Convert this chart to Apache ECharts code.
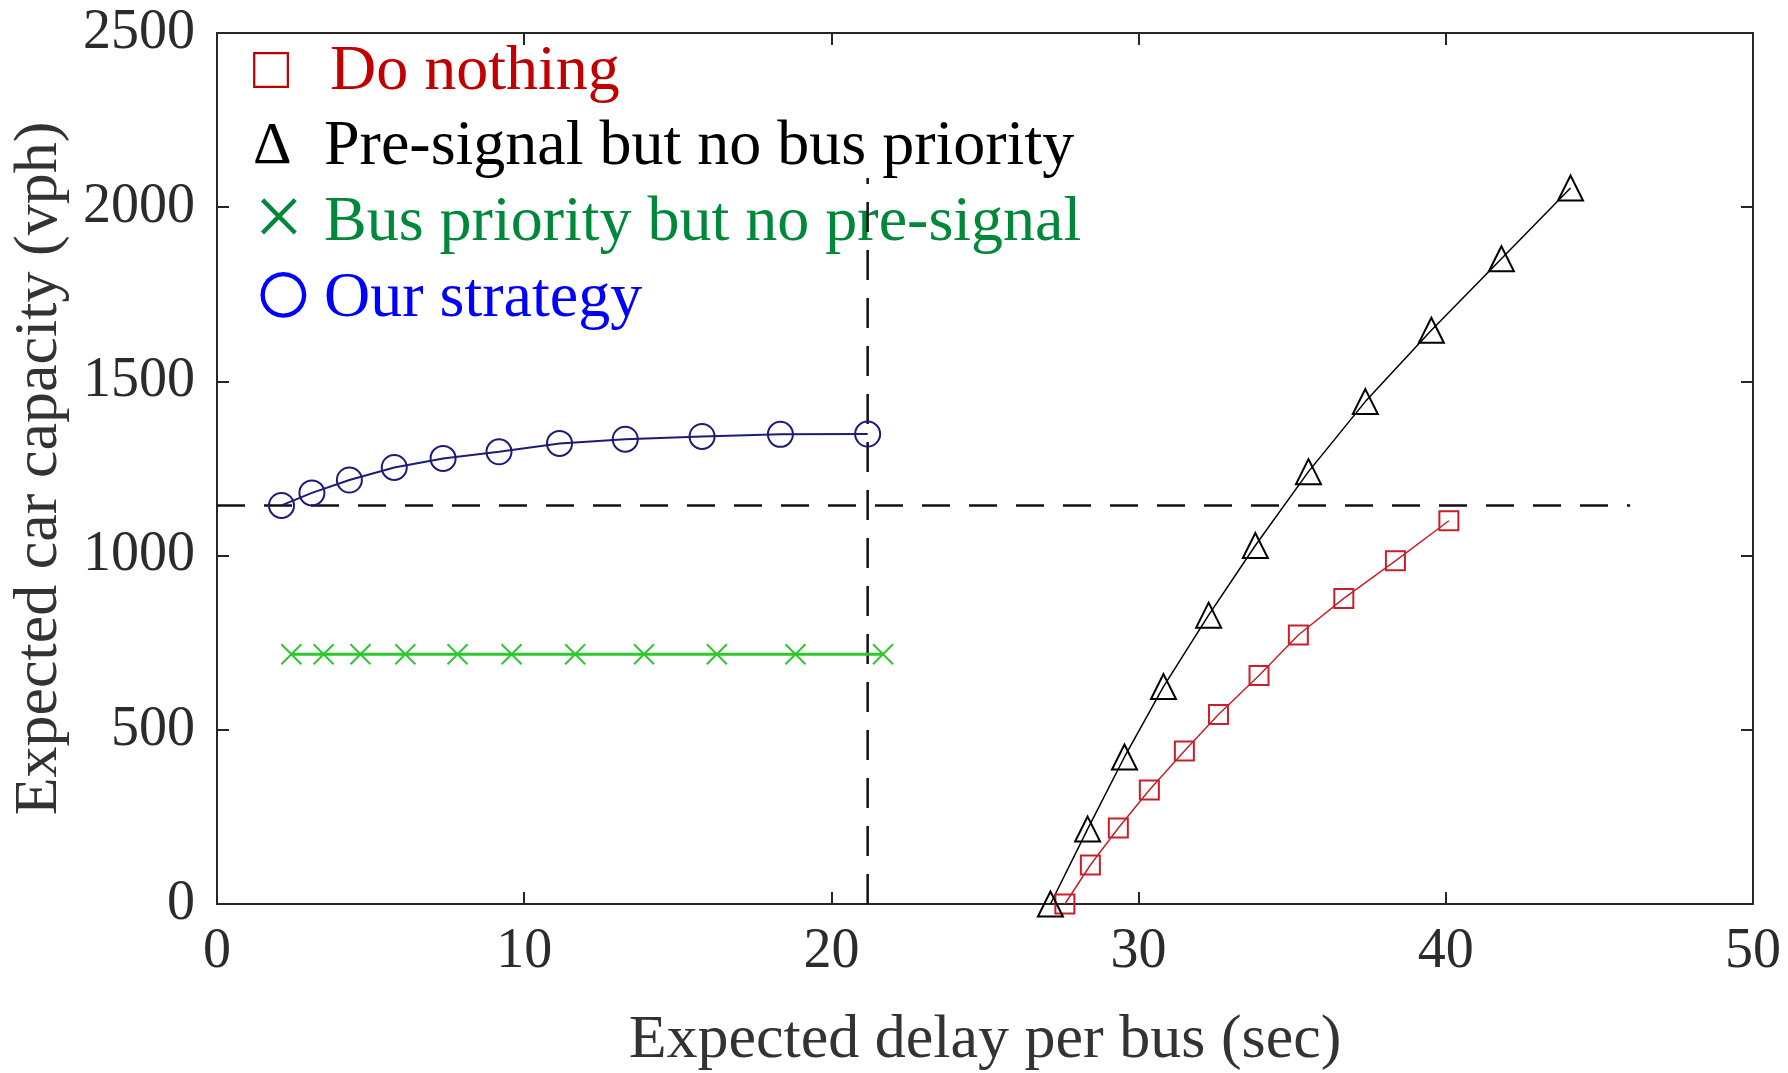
<!DOCTYPE html>
<html>
<head>
<meta charset="utf-8">
<title>Expected car capacity vs expected bus delay</title>
<script src="https://cdn.jsdelivr.net/npm/echarts@6/dist/echarts.min.js"></script>
<style>
  html, body { margin: 0; padding: 0; background: #ffffff; }
  #chart { width: 1788px; height: 1073px; }
</style>
</head>
<body>
<div id="chart"></div>
<script>
// Series names (legend order)
const seriesNames = [
  'Do nothing',
  'Pre-signal but no bus priority',
  'Bus priority but no pre-signal',
  'Our strategy'
];
const legendGlyphs = ['\u25A1', '\u0394', '\u00D7', '\u25CB'];

// Do nothing
const delayDoNothing = [27.6, 28.43, 29.34, 30.35, 31.49, 32.6, 33.92, 35.2, 36.68, 38.36, 40.1];
const capDoNothing   = [0, 112, 218, 327, 439, 544, 656, 772, 877, 985, 1100];

// Pre-signal but no bus priority
const delayPreSignal = [27.13, 28.34, 29.54, 30.81, 32.28, 33.8, 35.53, 37.38, 39.53, 41.81, 44.06];
const capPreSignal   = [0, 215, 422, 624, 829, 1029, 1241, 1442, 1647, 1852, 2055];

// Bus priority but no pre-signal
const delayBusPriority = [2.42, 3.47, 4.67, 6.13, 7.83, 9.59, 11.66, 13.9, 16.27, 18.83, 21.68];
const capBusPriority   = [717, 717, 717, 717, 717, 717, 717, 717, 717, 717, 717];

// Our strategy
const delayOurs = [2.1, 3.09, 4.31, 5.77, 7.36, 9.18, 11.15, 13.29, 15.79, 18.34, 21.18];
const capOurs   = [1144, 1180, 1217, 1253, 1279, 1298, 1322, 1334, 1342, 1348, 1349];

// Reference guide lines (dashed)
const guideHorizontalX = [0, 46];
const guideHorizontalY = [1144, 1144];
const guideVerticalX   = [21.18, 21.18];
const guideVerticalY   = [0, 2084];

// Axis ticks
const xTicks = { min: 0, max: 50, interval: 10 };
const yTicks = { min: 0, max: 2500, interval: 500 };

const zip = (xs, ys) => xs.map((x, i) => [x, ys[i]]);

const FONT = '"Liberation Serif", "Times New Roman", serif';
const AXIS_COLOR = '#262626';

const crossPath = 'path://M0,0L10,10M10,0L0,10';

const seriesColors = {
  doNothing: '#c8202a',
  preSignal: '#000000',
  busPriority: '#2fc62f',
  ours: '#1c1c78'
};
const legendColors = ['#c00000', '#000000', '#00883a', '#0000ff'];

const chart = echarts.init(document.getElementById('chart'), null, { renderer: 'canvas' });

const hiddenAxisBase = {
  type: 'value',
  axisLabel: { show: false },
  axisTick: { show: true, inside: true, length: 12, lineStyle: { color: AXIS_COLOR, width: 2 } },
  axisLine: { show: true, onZero: false, lineStyle: { color: AXIS_COLOR, width: 2 } },
  splitLine: { show: false }
};

// Legend: coloured glyph + coloured label per series
const legendGraphics = [];
const legendCenters = [72, 147, 223, 299];
const glyphSizes = [60, 60, 88, 104];
const glyphLeft = [253, 253, 254, 252];
seriesNames.forEach((name, i) => {
  legendGraphics.push({
    type: 'text',
    left: glyphLeft[i],
    top: legendCenters[i] - glyphSizes[i] / 2,
    style: {
      text: legendGlyphs[i],
      font: glyphSizes[i] + 'px ' + FONT,
      fill: legendColors[i]
    }
  });
  legendGraphics.push({
    type: 'text',
    left: i === 0 ? 330 : 324,
    top: legendCenters[i] - 32,
    style: {
      text: name,
      font: '64px ' + FONT,
      fill: legendColors[i]
    }
  });
});

const option = {
  backgroundColor: '#ffffff',
  animation: false,
  grid: {
    left: 217, right: 35, top: 33, bottom: 169,
    containLabel: false,
    outerBoundsMode: 'none'
  },
  xAxis: [
    {
      type: 'value',
      min: xTicks.min, max: xTicks.max, interval: xTicks.interval,
      name: 'Expected delay per bus (sec)',
      nameLocation: 'middle',
      nameGap: 106,
      nameTextStyle: { fontFamily: FONT, fontSize: 62, color: '#333333' },
      axisLabel: { fontFamily: FONT, fontSize: 56, color: '#2b2b2b', margin: 20 },
      axisTick: { inside: true, length: 12, lineStyle: { color: AXIS_COLOR, width: 2 } },
      axisLine: { onZero: false, lineStyle: { color: AXIS_COLOR, width: 2 } },
      splitLine: { show: false }
    },
    Object.assign({}, hiddenAxisBase, {
      position: 'top',
      min: xTicks.min, max: xTicks.max, interval: xTicks.interval
    })
  ],
  yAxis: [
    {
      type: 'value',
      min: yTicks.min, max: yTicks.max, interval: yTicks.interval,
      name: 'Expected car capacity (vph)',
      nameLocation: 'middle',
      nameGap: 146,
      nameTextStyle: { fontFamily: FONT, fontSize: 62, color: '#333333' },
      axisLabel: {
        fontFamily: FONT, fontSize: 56, color: '#2b2b2b', margin: 22,
        formatter: (v) => String(v)
      },
      axisTick: { inside: true, length: 12, lineStyle: { color: AXIS_COLOR, width: 2 } },
      axisLine: { onZero: false, lineStyle: { color: AXIS_COLOR, width: 2 } },
      splitLine: { show: false }
    },
    Object.assign({}, hiddenAxisBase, {
      position: 'right',
      min: yTicks.min, max: yTicks.max, interval: yTicks.interval
    })
  ],
  graphic: legendGraphics,
  series: [
    {
      name: 'guide-horizontal',
      type: 'line',
      data: zip(guideHorizontalX, guideHorizontalY),
      symbol: 'none',
      lineStyle: { color: '#111111', width: 2.5, type: [28, 19] },
      silent: true,
      z: 1
    },
    {
      name: 'guide-vertical',
      type: 'line',
      data: zip(guideVerticalX, guideVerticalY),
      symbol: 'none',
      lineStyle: { color: '#111111', width: 2.5, type: [30, 18] },
      silent: true,
      z: 1
    },
    {
      name: seriesNames[0],
      type: 'line',
      data: zip(delayDoNothing, capDoNothing),
      symbol: 'rect',
      symbolSize: 19,
      lineStyle: { color: seriesColors.doNothing, width: 1.5 },
      itemStyle: { color: 'rgba(0,0,0,0)', borderColor: seriesColors.doNothing, borderWidth: 2 },
      z: 3
    },
    {
      name: seriesNames[1],
      type: 'line',
      data: zip(delayPreSignal, capPreSignal),
      symbol: 'triangle',
      symbolSize: 25,
      lineStyle: { color: seriesColors.preSignal, width: 1.5 },
      itemStyle: { color: 'rgba(0,0,0,0)', borderColor: seriesColors.preSignal, borderWidth: 2 },
      z: 3
    },
    {
      name: seriesNames[2],
      type: 'line',
      data: zip(delayBusPriority, capBusPriority),
      symbol: crossPath,
      symbolSize: 20,
      lineStyle: { color: seriesColors.busPriority, width: 3 },
      itemStyle: { color: 'rgba(0,0,0,0)', borderColor: seriesColors.busPriority, borderWidth: 2 },
      z: 3
    },
    {
      name: seriesNames[3],
      type: 'line',
      data: zip(delayOurs, capOurs),
      symbol: 'circle',
      symbolSize: 25,
      lineStyle: { color: seriesColors.ours, width: 2 },
      itemStyle: { color: 'rgba(0,0,0,0)', borderColor: seriesColors.ours, borderWidth: 2 },
      z: 3
    }
  ]
};

chart.setOption(option);
</script>
</body>
</html>
